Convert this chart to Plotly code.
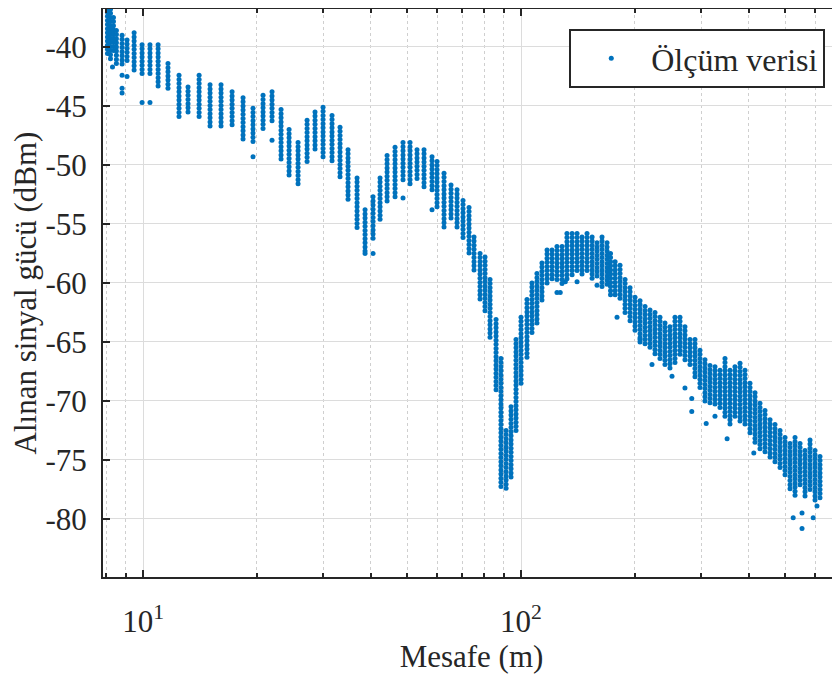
import numpy as np
import plotly.graph_objects as go

# Distance columns (m) and the upper / lower received power read for each column (dBm)
dist_m = [8.05, 8.2, 8.35, 8.5, 8.8, 9.07, 9.47, 9.94, 10.43, 10.96, 11.64, 12.45, 13.15, 14.07,
          15.04, 16.08, 17.2, 18.39, 19.54, 20.77, 21.94, 23.18, 24.34, 25.71, 27.16, 28.51, 29.94,
          31.62, 33.2, 34.86, 36.83, 38.67, 40.6, 42.37, 44.22, 46.42, 48.73, 50.86, 53.07, 55.38,
          58.15, 59.95, 62.56, 65.29, 67.72, 70.24, 72.85, 75.1, 77.9, 80.3, 82.8, 85.9, 88.5, 91.3,
          94.1, 97.0, 100, 103.7, 106.9, 110.2, 113.6, 117.2, 120.8, 124.5, 128.4, 132.3, 136.5,
          140.7, 145.0, 149.5, 154.2, 158.9, 163.8, 168.9, 172.5,
          177.4, 182.8, 188.5, 194.3, 200.3, 206.5, 212.9, 219.4, 226.2, 233.2, 240.4, 247.8, 255.5,
          263.4, 271.5, 280.0, 288.6, 297.5, 306.7, 316.2, 326.0, 336.1, 346.5, 357.2, 368.2, 379.7,
          391.4, 403.5, 416.0, 428.8, 442.1, 455.9, 469.9, 484.5, 499.5, 514.9, 530.9, 547.3, 564.2,
          581.6, 599.6, 618.1]
p_top = [-36.7, -36.8, -37.5, -38.6, -39.0, -39.4, -38.8, -39.8, -39.8, -39.8, -41.4, -42.4, -43.4,
         -42.4, -43.2, -43.2, -43.8, -44.3, -45.2, -44.1, -43.8, -45.3, -47.0, -48.1, -46.2, -45.5,
         -45.1, -45.8, -46.8, -48.7, -51.1, -53.8, -52.7, -51.1, -49.2, -48.5, -48.1, -48.1, -48.7,
         -48.7, -49.3, -49.7, -50.7, -51.7, -52.1, -53.0, -53.6, -56.1, -57.5, -57.8, -59.7, -63.1,
         -66.4, -72.5, -70.5, -64.8, -62.9, -61.4, -60.0, -59.2, -58.3, -57.2, -57.2, -56.9, -56.9,
         -55.8, -55.8, -55.8, -56.1, -55.8, -56.1, -56.6, -56.1, -56.6, -57.5,
         -58.2, -58.5, -59.7, -60.4, -61.2, -61.5, -62.0, -62.3, -62.5, -62.9, -63.4, -63.7, -62.9,
         -62.9, -63.7, -64.8, -64.8, -65.7, -66.5, -67.0, -67.1, -67.4, -66.4, -67.4, -67.1, -66.8,
         -67.4, -68.5, -69.3, -70.2, -70.8, -71.6, -72.0, -72.5, -73.1, -73.6, -73.1, -73.6, -74.2,
         -73.3, -74.2, -74.7]
p_bottom = [-40.8, -41.3, -40.6, -41.4, -41.6, -41.4, -42.0, -42.5, -42.5, -43.5, -43.5, -46.0, -45.5,
            -45.9, -46.9, -46.9, -46.8, -47.9, -48.3, -47.2, -46.4, -49.6, -51.0, -51.9, -49.8, -48.7,
            -49.4, -49.8, -51.3, -53.0, -55.5, -57.4, -56.5, -54.9, -53.2, -52.7, -51.5, -51.9, -51.4,
            -51.9, -52.4, -53.8, -55.3, -54.8, -55.5, -56.4, -57.5, -58.9, -61.4, -62.5, -64.8, -69.1,
            -77.3, -77.6, -76.7, -72.5, -68.8, -66.3, -64.2, -63.4, -61.7, -60.3, -59.7, -60.0, -60.3,
            -59.7, -59.5, -59.2, -59.5, -59.2, -59.7, -59.7, -60.3, -60.3, -61.0,
            -61.2, -61.4, -62.6, -63.3, -64.2, -65.0, -65.3, -65.7, -66.1, -66.5, -67.1, -67.2, -66.8,
            -66.3, -66.5, -67.1, -68.0, -69.1, -70.2, -70.2, -70.5, -70.8, -71.4, -72.2, -71.6, -71.9,
            -72.2, -72.7, -73.6, -74.2, -74.4, -75.0, -75.3, -75.8, -76.4, -77.5, -78.1, -77.3, -78.1,
            -77.5, -78.4, -78.4]

# Isolated readings outside the main columns
outlier_d = [8.3, 8.8, 8.8, 8.8, 9.07, 9.94, 10.43, 19.54, 21.94, 38.67, 40.6, 48.73, 58.15, 124.5,
             127.0, 131.0, 140.7, 158.9, 179.5, 206.5, 222.1, 250.9, 271.5, 283.0, 283.0, 309.0,
             326.0, 351.0, 413.0, 525.0, 554.0, 554.0, 593.0, 606.9]
outlier_p = [-41.7, -42.4, -43.5, -43.9, -42.5, -44.7, -44.7, -49.3, -47.9, -57.5, -57.5, -52.8, -53.8,
             -60.8, -60.8, -59.9, -59.9, -60.2, -62.9, -64.8, -66.9, -67.9, -68.9, -69.8, -70.9, -71.9,
             -71.3, -73.2, -74.4, -79.9, -79.5, -80.8, -79.9, -78.9]

RESOLUTION_DB = 0.35  # spacing of the quantised power readings seen in each column

xs, ys = [], []
for d, top, bot in zip(dist_m, p_top, p_bottom):
    levels = np.arange(top, bot - 1e-9, -RESOLUTION_DB)
    xs.extend([d] * len(levels))
    ys.extend(levels.tolist())
xs.extend(outlier_d)
ys.extend(outlier_p)

y_ticks = [-80, -75, -70, -65, -60, -55, -50, -45, -40]
y_ticktext = ["-80", "-75", "-70", "-65", "-60", "-55", "-50", "-45", "-40"]
x_ticks = [10, 100]
x_ticktext = ["10<sup>1</sup>", "10<sup>2</sup>"]
x_minor = [8, 9, 20, 30, 40, 50, 60, 70, 80, 90, 200, 300, 400, 500, 600]

FONT = "Liberation Serif"
AX = "#262626"

fig = go.Figure()
fig.add_trace(go.Scatter(
    x=xs, y=ys, mode="markers", name="Ölçüm verisi",
    marker=dict(size=5, color="#0072BD", line=dict(width=0)),
))

# the page body adds an 8 px offset; margins compensate for it
fig.update_layout(
    width=840, height=680,
    margin=dict(l=95, r=8, t=1, b=111, autoexpand=False),
    paper_bgcolor="white", plot_bgcolor="white",
    font=dict(family=FONT, size=31, color=AX),
    showlegend=True,
    legend=dict(x=0.98, y=0.965, xanchor="right", yanchor="top",
                bordercolor=AX, borderwidth=2, bgcolor="white",
                font=dict(family=FONT, size=32, color=AX),
                itemwidth=70),
)
fig.update_xaxes(
    type="log", range=[0.894, 2.844], automargin=False,
    tickmode="array", tickvals=x_ticks, ticktext=x_ticktext,
    ticks="inside", ticklen=7, tickwidth=1.5, tickcolor=AX,
    showline=True, linecolor=AX, linewidth=2, mirror="ticks",
    showgrid=True, gridcolor="#dcdcdc", gridwidth=1,
    minor=dict(tickmode="array", tickvals=x_minor, ticks="inside", ticklen=4,
               tickcolor=AX, showgrid=True, gridcolor="#cfcfcf", griddash="dot", gridwidth=1),
    ticklabelstandoff=16,
    title=dict(text="Mesafe (m)", standoff=5, font=dict(family=FONT, size=31, color=AX)),
    zeroline=False,
)
fig.update_yaxes(
    range=[-84.92, -36.78], automargin=False,
    tickmode="array", tickvals=y_ticks, ticktext=y_ticktext,
    ticks="inside", ticklen=7, tickwidth=1.5, tickcolor=AX,
    showline=True, linecolor=AX, linewidth=2, mirror=False,
    showgrid=True, gridcolor="#dcdcdc", gridwidth=1,
    ticklabelstandoff=8,
    title=dict(text="Alınan sinyal gücü (dBm)", standoff=2, font=dict(family=FONT, size=31, color=AX)),
    zeroline=False,
)

fig.write_html("out.html")
